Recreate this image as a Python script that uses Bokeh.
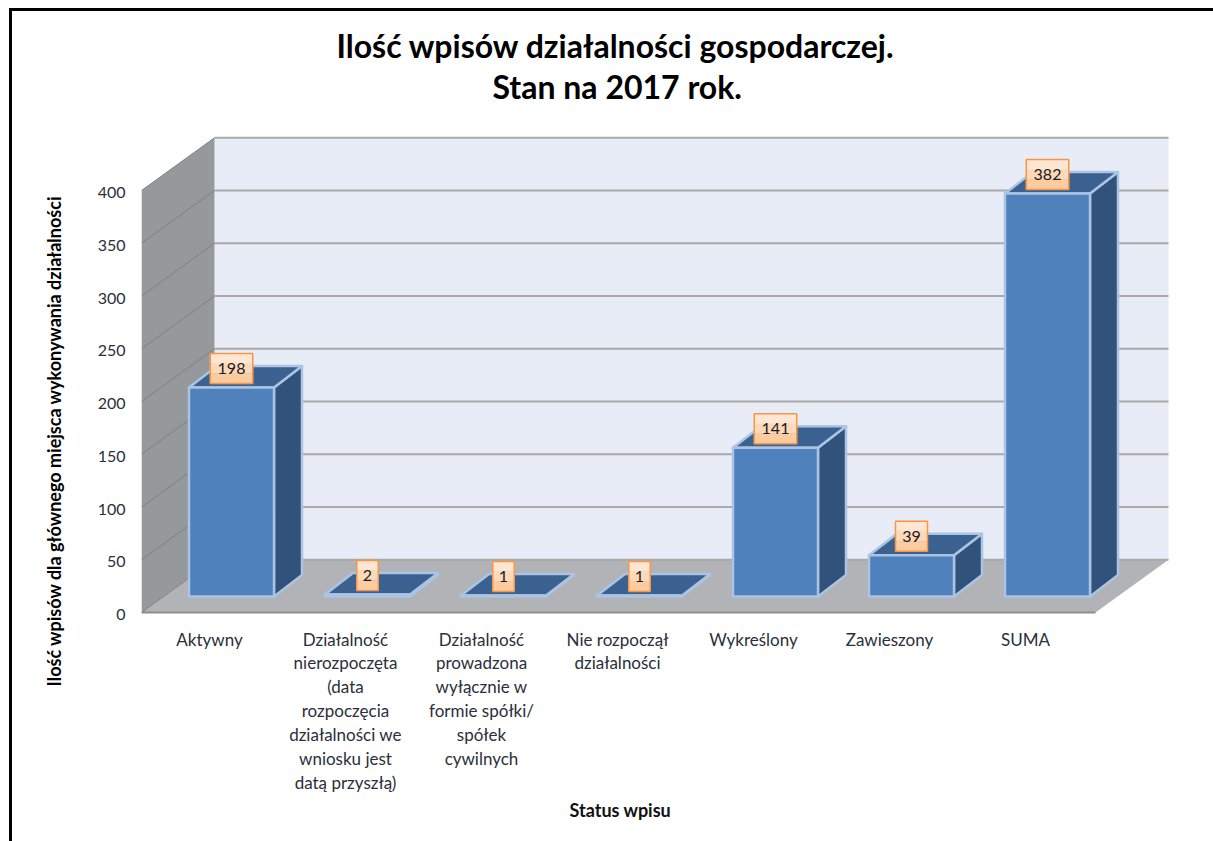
from bokeh.plotting import figure
from bokeh.models import Range1d, LinearAxis, FixedTicker, Title, InlineStyleSheet
from bokeh.core.properties import value as V
from bokeh.embed import file_html
from bokeh.resources import INLINE

title_lines = ["Ilość wpisów działalności gospodarczej.", "Stan na 2017 rok."]
y_title = "Ilość wpisów dla głównego miejsca wykonywania działalności"
x_title = "Status wpisu"
categories = ["Aktywny",
              "Działalność\nnierozpoczęta\n(data\nrozpoczęcia\ndziałalności we\nwniosku jest\ndatą przyszłą)",
              "Działalność\nprowadzona\nwyłącznie w\nformie spółki/\nspółek\ncywilnych",
              "Nie rozpoczął\ndziałalności",
              "Wykreślony",
              "Zawieszony",
              "SUMA"]
values = [198, 2, 1, 1, 141, 39, 382]
y_ticks = [0, 50, 100, 150, 200, 250, 300, 350, 400]

FONT = "Lato"
PX_X = 136.0      # px per category
PX_Y = 1.055      # px per value unit
X0 = 231.0        # page px of first bar's centre
Y0 = 612.0        # page px of value 0 on the front plane
L, R, T, B = 141, 1170, 125, 614   # page px of the plot frame
W, H = 1213, 841

def xd(px): return (px - X0) / PX_X

frame_css = InlineStyleSheet(css="""
:host::after { content: ""; position: absolute; left: 9px; top: 8px; right: 0; bottom: 0;
  border-top: 3px solid #000; border-left: 3px solid #000; pointer-events: none; }
""")

y_lo, y_hi = (Y0 - B) / PX_Y, (Y0 - T) / PX_Y
p = figure(width=W, height=H, output_backend="svg", toolbar_location=None,
           x_range=Range1d(xd(L), xd(R)), y_range=Range1d(y_lo, y_hi),
           min_border_left=L, min_border_right=W - R,
           min_border_top=T, min_border_bottom=H - B,
           x_axis_type=None, y_axis_type=None, stylesheets=[frame_css])
p.grid.visible = False
p.outline_line_color = None
p.background_fill_color = "white"
p.border_fill_color = "white"

# depth of the 3D box
DX = 73 / PX_X
DY = 50.0
wall_left = xd(141)
floor_right = xd(1095)
top_v = 400

# walls and floor
p.patch([wall_left + DX, floor_right + DX, floor_right + DX, wall_left + DX],
        [DY, DY, DY + top_v, DY + top_v], fill_color="#e8ecf6", line_color=None)
p.patch([wall_left, wall_left + DX, wall_left + DX, wall_left],
        [0, DY, DY + top_v, top_v], fill_color="#96999c", line_color=None)
p.patch([wall_left, floor_right, floor_right + DX, wall_left + DX],
        [0, 0, DY, DY], fill_color="#b1b3b6", line_color=None)
p.line([wall_left, floor_right], [0, 0], line_color="#8c8e91", line_width=2)

# grid lines on back wall and side wall
p.multi_line([[wall_left + DX, floor_right + DX] for _ in y_ticks],
             [[t + DY, t + DY] for t in y_ticks], line_color="#a9a9a9", line_width=2)
p.multi_line([[wall_left, wall_left + DX] for _ in y_ticks],
             [[t, t + DY] for t in y_ticks], line_color="#7e8184", line_width=1)

# bars
HW = 42.5 / PX_X
BX = 28 / PX_X
BY = 21.5 / PX_Y
BASE = 16 / PX_Y
EDGE = "#abc4e3"
for i, v in enumerate(values):
    x1, x2 = i - HW, i + HW
    y1, y2 = BASE, BASE + v
    p.patch([x2, x2 + BX, x2 + BX, x2], [y1, y1 + BY, y2 + BY, y2],
            fill_color="#31527b", line_color=EDGE, line_width=2.5, line_join="round")
    p.patch([x1, x2, x2 + BX, x1 + BX], [y2, y2, y2 + BY, y2 + BY],
            fill_color="#3a6190", line_color=EDGE, line_width=2.5, line_join="round")
    p.patch([x1, x2, x2, x1], [y1, y1, y2, y2],
            fill_color="#4f81bd", line_color=EDGE, line_width=2.5, line_join="round")

# value tags, shaded pale at the top to deeper orange at the bottom
tops = [BASE + v for v in values]
idx = list(range(len(values)))
widths = [11 + 10.5 * len(str(v)) for v in values]
centres = [t + 19 / PX_Y for t in tops]
bands = [(10, "#fee6d2"), (0, "#fdd9ba"), (-10, "#fdcba0")]
for off, col in bands:
    p.rect(idx, [c + off / PX_Y for c in centres], width=widths, height=10,
           width_units="screen", height_units="screen", fill_color=col, line_color=col, line_width=0.5)
p.rect(idx, centres, width=widths, height=30, width_units="screen", height_units="screen",
       fill_color=None, line_color="#f79646", line_width=1.5)
p.text(idx, centres, text=[str(v) for v in values], text_align="center", text_baseline="middle",
       text_font=V(FONT), text_font_size="16px", text_color="#1a1a1a")

# axes
p.extra_y_ranges["tick"] = Range1d(y_lo + 2 / PX_Y, y_hi + 2 / PX_Y)
ax_y = LinearAxis(y_range_name="tick", ticker=FixedTicker(ticks=y_ticks), axis_line_color=None,
                  major_tick_line_color=None, minor_tick_line_color=None,
                  major_label_text_font=FONT, major_label_text_font_size="16px",
                  major_label_text_color="#2a2f3a", major_label_standoff=10)
p.add_layout(ax_y, "left")

p.extra_x_ranges["cat"] = Range1d((L - 209) / PX_X, (R - 209) / PX_X)
ax_x = LinearAxis(x_range_name="cat", ticker=FixedTicker(ticks=list(range(len(categories)))),
                  major_label_overrides={i: c for i, c in enumerate(categories)},
                  axis_line_color=None, major_tick_line_color=None, minor_tick_line_color=None,
                  major_label_text_font=FONT, major_label_text_font_size="17px",
                  major_label_text_color="#2a2f3a", major_label_text_line_height=1.14,
                  major_label_standoff=8)
p.add_layout(ax_x, "below")

# titles
p.add_layout(Title(text=title_lines[1], align="left", offset=492 - L, standoff=39,
                   text_font=FONT, text_font_style="bold", text_font_size="32px", text_color="black"), "above")
p.add_layout(Title(text=title_lines[0], align="left", offset=336 - L, standoff=-38,
                   text_font=FONT, text_font_style="bold", text_font_size="32px", text_color="black"), "above")
p.add_layout(Title(text=y_title, align="left", offset=B - 686, standoff=59,
                   text_font=FONT, text_font_style="bold", text_font_size="18px", text_color="black"), "left")
p.add_layout(Title(text=x_title, align="left", offset=569 - L, standoff=1,
                   text_font=FONT, text_font_style="bold", text_font_size="18px", text_color="#111111"), "below")

open("out.html", "w").write(file_html(p, INLINE))
